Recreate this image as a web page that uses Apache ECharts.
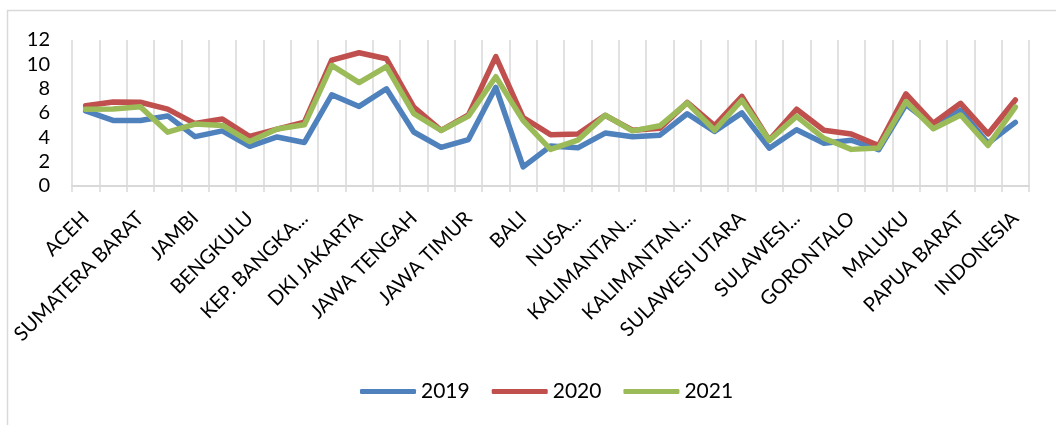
<!DOCTYPE html>
<html>
<head>
<meta charset="utf-8">
<style>
  html, body { margin: 0; padding: 0; background: #fff; }
  #chart { width: 1056px; height: 425px; }
</style>
<script src="https://cdn.jsdelivr.net/npm/echarts@6/dist/echarts.min.js"></script>
</head>
<body>
<div id="chart"></div>
<script>
// Open unemployment rate (%) by province, August of each year
const provinces = [
  'ACEH', 'SUMATERA UTARA', 'SUMATERA BARAT', 'RIAU', 'JAMBI',
  'SUMATERA SELATAN', 'BENGKULU', 'LAMPUNG', 'KEP. BANGKA BELITUNG', 'KEP. RIAU',
  'DKI JAKARTA', 'JAWA BARAT', 'JAWA TENGAH', 'DI YOGYAKARTA', 'JAWA TIMUR',
  'BANTEN', 'BALI', 'NUSA TENGGARA BARAT', 'NUSA TENGGARA TIMUR', 'KALIMANTAN BARAT',
  'KALIMANTAN TENGAH', 'KALIMANTAN SELATAN', 'KALIMANTAN TIMUR', 'KALIMANTAN UTARA', 'SULAWESI UTARA',
  'SULAWESI TENGAH', 'SULAWESI SELATAN', 'SULAWESI TENGGARA', 'GORONTALO', 'SULAWESI BARAT',
  'MALUKU', 'MALUKU UTARA', 'PAPUA BARAT', 'PAPUA', 'INDONESIA'
];

// Axis text as printed (long names are cut short)
const tickLabels = [
  'ACEH', 'SUMATERA UTARA', 'SUMATERA BARAT', 'RIAU', 'JAMBI',
  'SUMATERA SELATAN', 'BENGKULU', 'LAMPUNG', 'KEP. BANGKA...', 'KEP. RIAU',
  'DKI JAKARTA', 'JAWA BARAT', 'JAWA TENGAH', 'DI YOGYAKARTA', 'JAWA TIMUR',
  'BANTEN', 'BALI', 'NUSA TENGGARA BARAT', 'NUSA...', 'KALIMANTAN BARAT',
  'KALIMANTAN...', 'KALIMANTAN SELATAN', 'KALIMANTAN...', 'KALIMANTAN UTARA', 'SULAWESI UTARA',
  'SULAWESI TENGAH', 'SULAWESI...', 'SULAWESI TENGGARA', 'GORONTALO', 'SULAWESI BARAT',
  'MALUKU', 'MALUKU UTARA', 'PAPUA BARAT', 'PAPUA', 'INDONESIA'
];

const years = ['2019', '2020', '2021'];

const rate2019 = [
  6.17, 5.39, 5.38, 5.76, 4.06, 4.53, 3.26, 4.03, 3.58, 7.50,
  6.54, 7.99, 4.44, 3.18, 3.82, 8.11, 1.57, 3.28, 3.14, 4.35,
  4.04, 4.18, 5.94, 4.49, 6.01, 3.11, 4.62, 3.52, 3.76, 2.98,
  6.69, 4.97, 6.24, 3.51, 5.23
];
const rate2020 = [
  6.59, 6.91, 6.88, 6.32, 5.13, 5.51, 4.07, 4.67, 5.25, 10.34,
  10.95, 10.46, 6.48, 4.57, 5.84, 10.64, 5.63, 4.22, 4.28, 5.81,
  4.58, 4.74, 6.87, 4.97, 7.37, 3.77, 6.31, 4.58, 4.28, 3.32,
  7.57, 5.15, 6.80, 4.28, 7.07
];
const rate2021 = [
  6.30, 6.33, 6.52, 4.42, 5.09, 4.98, 3.65, 4.69, 5.03, 9.91,
  8.50, 9.82, 5.95, 4.56, 5.74, 8.98, 5.37, 3.01, 3.77, 5.82,
  4.53, 4.95, 6.83, 4.58, 7.06, 3.75, 5.72, 3.92, 3.01, 3.13,
  6.93, 4.71, 5.84, 3.33, 6.49
];

const yTicks = { min: 0, max: 12, step: 2 };
const colors = ['#4F81BD', '#C0504D', '#9BBB59'];
const FONT = 'Lato, "Open Sans", sans-serif';
const gridGray = '#D9D9D9';

const chart = echarts.init(document.getElementById('chart'), null, { renderer: 'canvas' });

const seriesData = [rate2019, rate2020, rate2021];

chart.setOption({
  animation: false,
  backgroundColor: '#fff',
  color: colors,
  graphic: [{
    type: 'rect',
    silent: true,
    shape: { x: 7.5, y: 10.5, width: 1200, height: 600 },
    style: { fill: 'none', stroke: gridGray, lineWidth: 1.5 }
  }],
  grid: { left: 72, right: 27, top: 40, bottom: 239 },
  legend: {
    data: years,
    bottom: 18,
    left: 355,
    icon: 'roundRect',
    itemWidth: 56,
    itemHeight: 5,
    itemGap: 22,
    textStyle: { fontFamily: FONT, fontSize: 21, color: '#000' }
  },
  xAxis: {
    type: 'category',
    data: provinces,
    boundaryGap: true,
    axisLine: { show: true, lineStyle: { color: gridGray, width: 2 } },
    axisTick: { show: true, length: 6, interval: 0, lineStyle: { color: gridGray, width: 1.5 } },
    splitLine: { show: true, interval: 0, lineStyle: { color: gridGray, width: 1.5 } },
    axisLabel: {
      interval: 1,
      rotate: 45,
      margin: 29,
      fontFamily: FONT,
      fontSize: 20,
      color: '#000',
      formatter: (v, i) => tickLabels[i]
    }
  },
  yAxis: {
    type: 'value',
    min: yTicks.min,
    max: yTicks.max,
    interval: yTicks.step,
    axisLine: { show: false },
    axisTick: { show: false },
    splitLine: { show: false },
    axisLabel: {
      margin: 22,
      fontFamily: FONT,
      fontSize: 20,
      color: '#000'
    }
  },
  series: years.map((y, k) => ({
    name: y,
    type: 'line',
    data: seriesData[k],
    symbol: 'none',
    showSymbol: false,
    lineStyle: { width: 5.5, color: colors[k], cap: 'round', join: 'round' },
    itemStyle: { color: colors[k] }
  }))
});
</script>
</body>
</html>
